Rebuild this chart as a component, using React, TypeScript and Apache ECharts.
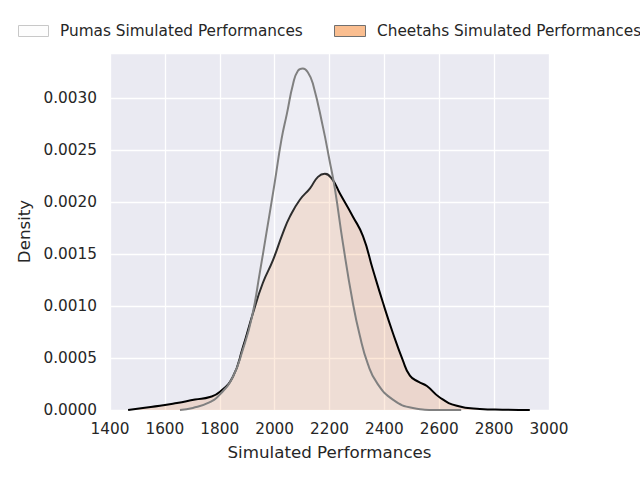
import React, { useEffect, useRef } from "react";
import * as echarts from "echarts";

const pumasX = [1655, 1702, 1760, 1801, 1848, 1884, 1917, 1946, 1970, 2000, 2025, 2045, 2067, 2085, 2103, 2122, 2140, 2176, 2200, 2220, 2249, 2285, 2310, 2340, 2373, 2431, 2504, 2591, 2680];
const pumasY = [0.0, 0.00002, 0.00007, 0.00015, 0.00032, 0.00058, 0.00089, 0.00132, 0.0017, 0.00218, 0.0026, 0.00285, 0.00313, 0.00326, 0.00328, 0.00324, 0.00313, 0.00272, 0.0024, 0.00212, 0.0016, 0.00103, 0.00072, 0.00044, 0.00026, 0.0001, 0.00002, 0.0, 0.0];

const cheetahsX = [1466, 1520, 1582, 1644, 1710, 1764, 1801, 1848, 1884, 1921, 1957, 1994, 2030, 2056, 2092, 2129, 2158, 2183, 2209, 2238, 2285, 2322, 2358, 2395, 2431, 2467, 2493, 2525, 2555, 2602, 2664, 2748, 2830, 2930];
const cheetahsY = [0.0, 0.00002, 0.00004, 0.000067, 0.0001, 0.000125, 0.000175, 0.00032, 0.0006, 0.00093, 0.00122, 0.00144, 0.0017, 0.00186, 0.00202, 0.00213, 0.00224, 0.00227, 0.00222, 0.00208, 0.00186, 0.00167, 0.00135, 0.00103, 0.00074, 0.00048, 0.00033, 0.00027, 0.00023, 0.00012, 0.00004, 0.00001, 0.000003, 0.0];

const xTicks = { min: 1400, max: 3000, interval: 200 };
const yTicks = { min: 0, max: 0.00343, interval: 0.0005 };

const legendLabels = ["Pumas Simulated Performances", "Cheetahs Simulated Performances"];

const zip = (xs: number[], ys: number[]) => xs.map((x, i) => [x, ys[i]]);

const FONT = "DejaVu Sans";
const TXT = "#262626";

export default function App() {
  const ref = useRef<HTMLDivElement>(null);
  useEffect(() => {
    if (!ref.current) return;
    const chart = echarts.init(ref.current, null, { renderer: "svg" });
    chart.setOption({
      animation: false,
      textStyle: { fontFamily: FONT },
      grid: {
        left: 110,
        right: 91,
        top: 53,
        bottom: 70,
        show: true,
        backgroundColor: "#EAEAF2",
        borderWidth: 0,
      },
      xAxis: {
        type: "value",
        min: xTicks.min,
        max: xTicks.max,
        interval: xTicks.interval,
        name: "Simulated Performances",
        nameLocation: "middle",
        nameGap: 33,
        nameTextStyle: { fontSize: 16.7, color: TXT, fontFamily: FONT },
        axisLine: { show: false },
        axisTick: { show: false },
        axisLabel: { fontSize: 15.3, color: TXT, margin: 11, fontFamily: FONT, formatter: (v: number) => String(v) },
        splitLine: { show: true, lineStyle: { color: "#FFFFFF", width: 1.3 } },
      },
      yAxis: {
        type: "value",
        min: yTicks.min,
        max: yTicks.max,
        interval: yTicks.interval,
        name: "Density",
        nameLocation: "middle",
        nameGap: 71,
        nameTextStyle: { fontSize: 16.7, color: TXT, fontFamily: FONT },
        axisLine: { show: false },
        axisTick: { show: false },
        axisLabel: {
          fontSize: 15.3,
          color: TXT,
          margin: 13,
          fontFamily: FONT,
          showMaxLabel: false,
          formatter: (v: number) => v.toFixed(4),
        },
        splitLine: { show: true, lineStyle: { color: "#FFFFFF", width: 1.3 } },
      },
      series: [
        {
          name: legendLabels[1],
          type: "line",
          data: zip(cheetahsX, cheetahsY),
          smooth: 0.5,
          symbol: "none",
          lineStyle: { color: "#000000", width: 2 },
          areaStyle: { color: "rgba(246,126,34,0.25)", origin: "start" },
          z: 2,
        },
        {
          name: legendLabels[0],
          type: "line",
          data: zip(pumasX, pumasY),
          smooth: 0.5,
          symbol: "none",
          lineStyle: { color: "#808080", width: 2 },
          areaStyle: { color: "rgba(255,255,255,0.25)", origin: "start" },
          z: 3,
        },
      ],
      graphic: [
        {
          type: "rect",
          shape: { x: 18.5, y: 25.5, width: 30, height: 11 },
          style: { fill: "#FDFDFD", stroke: "#C8C8C8", lineWidth: 1 },
        },
        {
          type: "text",
          x: 60,
          y: 31,
          style: { text: legendLabels[0], fontSize: 15.3, fill: TXT, fontFamily: FONT, verticalAlign: "middle", align: "left" },
        },
        {
          type: "rect",
          shape: { x: 334.5, y: 25.5, width: 31, height: 11 },
          style: { fill: "rgb(250,190,144)", stroke: "#707070", lineWidth: 1 },
        },
        {
          type: "text",
          x: 377,
          y: 31,
          style: { text: legendLabels[1], fontSize: 15.3, fill: TXT, fontFamily: FONT, verticalAlign: "middle", align: "left" },
        },
      ],
    });
    return () => chart.dispose();
  }, []);
  return <div ref={ref} style={{ width: 640, height: 480, position: "absolute", left: 0, top: 0 }} />;
}
